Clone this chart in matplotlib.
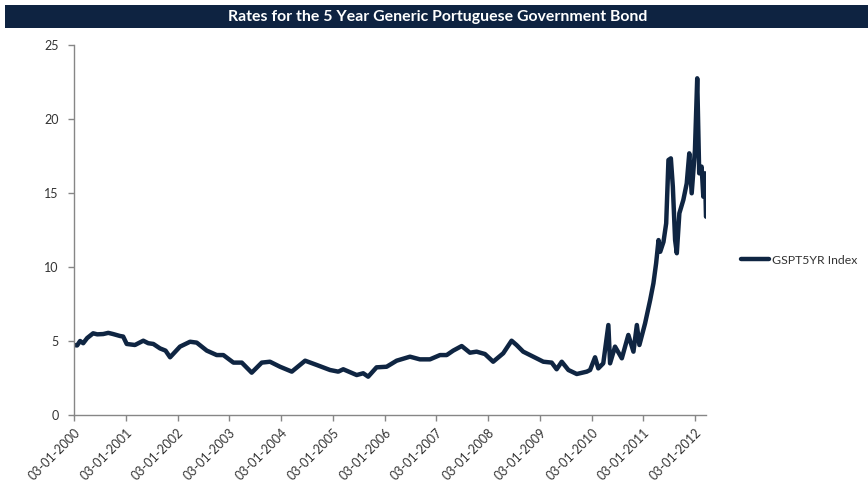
import matplotlib
matplotlib.use("Agg")
import matplotlib.pyplot as plt
import pandas as pd

# Observation dates and yields (%) for the GSPT5YR Index
dates = [
    "2000-01-03", "2000-01-25", "2000-02-15", "2000-03-08", "2000-04-05", "2000-05-17",
    "2000-06-15", "2000-07-27", "2000-09-01", "2000-10-05", "2000-11-22", "2000-12-15",
    "2001-01-09", "2001-03-08", "2001-05-06", "2001-06-10", "2001-07-16", "2001-09-01",
    "2001-10-10", "2001-11-11",
    "2002-01-20", "2002-04-01", "2002-05-18", "2002-07-28", "2002-10-06", "2002-11-22",
    "2003-02-01", "2003-04-01", "2003-06-10", "2003-08-20", "2003-10-17", "2003-12-27",
    "2004-03-19", "2004-06-21", "2004-09-11", "2004-12-14",
    "2005-02-10", "2005-03-17", "2005-06-20", "2005-08-05", "2005-09-09", "2005-11-07",
    "2006-01-17", "2006-03-29", "2006-07-01", "2006-09-09", "2006-11-19",
    "2007-01-29", "2007-03-17", "2007-05-02", "2007-07-01", "2007-08-28", "2007-10-14", "2007-12-12",
    "2008-02-08", "2008-04-19", "2008-06-17", "2008-07-22", "2008-09-07", "2008-11-17",
    "2009-01-27", "2009-03-27", "2009-05-01", "2009-06-06", "2009-07-23", "2009-09-20",
    "2009-11-30", "2009-12-23",
    "2010-01-27", "2010-02-19", "2010-03-26", "2010-05-01", "2010-05-13", "2010-06-17",
    "2010-08-04", "2010-09-19", "2010-10-25", "2010-11-18", "2010-12-06",
    "2011-01-15", "2011-02-20", "2011-03-15", "2011-04-03", "2011-04-20", "2011-05-02",
    "2011-05-25", "2011-06-13", "2011-06-29", "2011-07-16", "2011-07-30", "2011-08-15",
    "2011-08-27", "2011-09-14", "2011-10-12", "2011-11-05", "2011-11-23", "2011-12-10",
    "2012-01-02", "2012-01-18", "2012-02-01", "2012-02-18", "2012-03-01", "2012-03-13",
    "2012-03-20",
]
yields = [
    4.73, 4.70, 5.00, 4.85, 5.20, 5.52,
    5.45, 5.47, 5.55, 5.47, 5.34, 5.30,
    4.80, 4.73, 5.02, 4.85, 4.80, 4.50,
    4.35, 3.90,
    4.62, 4.95, 4.89, 4.35, 4.05, 4.05,
    3.54, 3.54, 2.86, 3.54, 3.60, 3.26,
    2.93, 3.67, 3.38, 3.04,
    2.93, 3.09, 2.70, 2.82, 2.59, 3.22,
    3.26, 3.67, 3.94, 3.76, 3.76,
    4.05, 4.05, 4.35, 4.66, 4.21, 4.28, 4.12,
    3.60, 4.17, 5.02, 4.73, 4.28, 3.94,
    3.60, 3.54, 3.09, 3.60, 3.04, 2.77,
    2.93, 3.04,
    3.90, 3.15, 3.49, 6.08, 3.49, 4.62,
    3.83, 5.41, 4.28, 6.08, 4.73,
    6.19, 7.77, 8.90, 10.25, 11.82, 11.03,
    11.70, 12.95, 17.23, 17.34, 15.43, 11.82,
    10.93, 13.63, 14.53, 15.65, 17.68, 14.98,
    17.90, 22.75, 16.33, 16.78, 14.75, 16.33,
    13.40,
]
tick_dates = [f"{y}-01-03" for y in range(2000, 2013)]
tick_labels = [f"03-01-{y}" for y in range(2000, 2013)]
y_ticks = [0, 5, 10, 15, 20, 25]

title = "Rates for the 5 Year Generic Portuguese Government Bond"
series_name = "GSPT5YR Index"

navy = "#0f2542"
axis_grey = "#868686"
label_grey = "#333333"

fig = plt.figure(figsize=(8.68, 5.03), dpi=100)
fig.patch.set_facecolor("white")

# Title banner
fig.patches.append(plt.Rectangle((5 / 868, 1 - 28 / 503), 863 / 868, 23 / 503,
                                 transform=fig.transFigure, facecolor="#0e2341",
                                 edgecolor="none", zorder=0))
fig.text(438 / 868, 1 - 16.5 / 503, title, color="white", fontsize=11.4,
         fontweight="bold", family=["Liberation Sans Narrow", "Lato"],
         ha="center", va="center")

ax = fig.add_axes([74 / 868, 1 - 415 / 503, (706 - 74) / 868, (415 - 45) / 503])

x = pd.to_datetime(dates)
ax.plot(x, yields, color=navy, linewidth=3.2, solid_joinstyle="round",
        solid_capstyle="round", label=series_name)

ax.set_ylim(0, 25)
ax.set_yticks(y_ticks)
ax.set_xlim(pd.Timestamp("2000-01-03"), pd.Timestamp("2012-03-20"))
ax.set_xticks(pd.to_datetime(tick_dates))
ax.set_xticklabels(tick_labels, rotation=45, ha="right", rotation_mode="anchor")

for side in ("top", "right"):
    ax.spines[side].set_visible(False)
for side in ("left", "bottom"):
    ax.spines[side].set_color(axis_grey)
    ax.spines[side].set_linewidth(1.0)

ax.tick_params(axis="both", colors=axis_grey, length=4, width=1.0, direction="out",
               labelcolor=label_grey, labelsize=9)
ax.tick_params(axis="y", pad=7)
ax.tick_params(axis="x", pad=4)
for lbl in ax.get_xticklabels() + ax.get_yticklabels():
    lbl.set_family("Lato")

leg = ax.legend(loc="center left", bbox_to_anchor=(730 / 868, 1 - 260 / 503),
                bbox_transform=fig.transFigure, frameon=False, handlelength=2.3,
                handletextpad=0.2, prop={"family": "Lato", "size": 8.8})
for t in leg.get_texts():
    t.set_color(label_grey)

fig.savefig("out.png", dpi=100, facecolor="white")
